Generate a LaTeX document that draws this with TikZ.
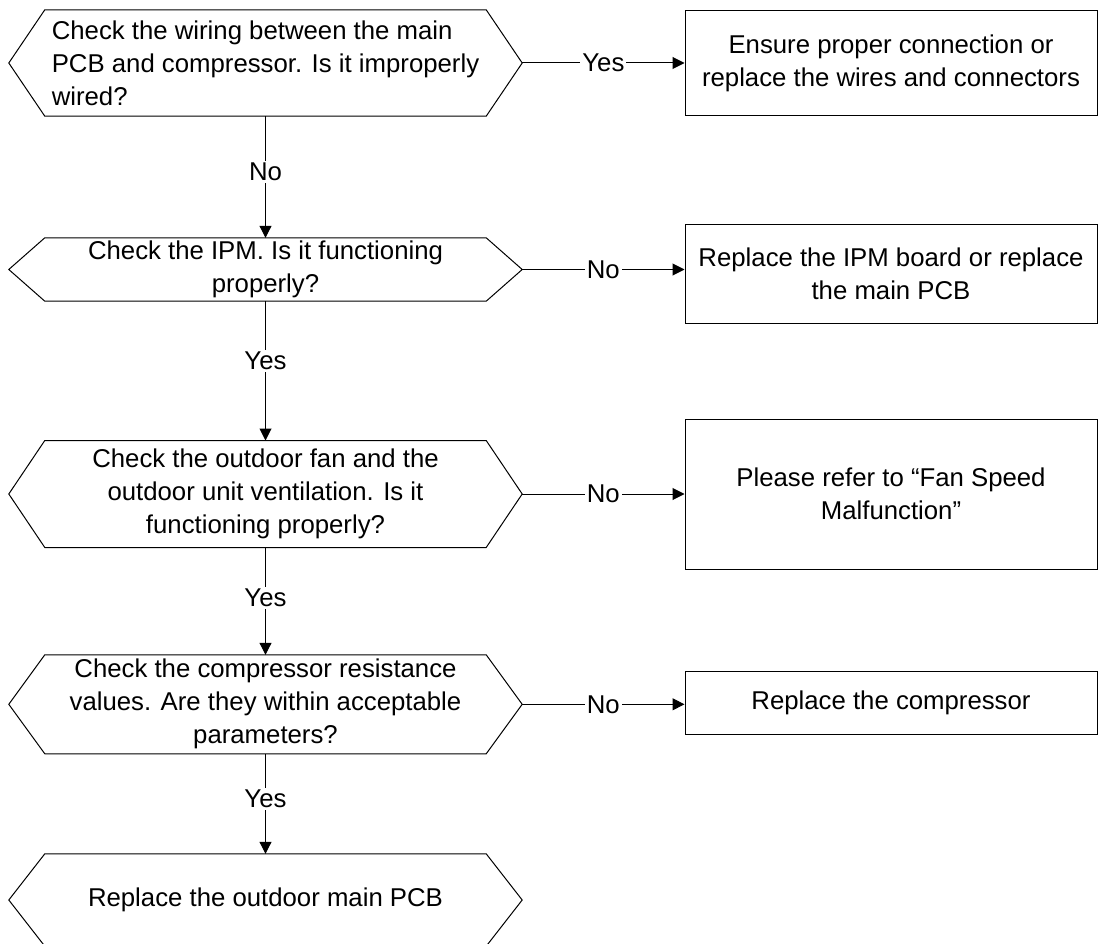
\documentclass[tikz,border=0pt]{standalone}
\usepackage{fontspec}
\setmainfont{Liberation Sans}
\usetikzlibrary{arrows.meta}
\begin{document}
\begin{tikzpicture}[x=1pt,y=-1pt,
  every node/.style={font=\fontsize{25.75}{33}\selectfont},
  hexnode/.style={inner sep=0pt, minimum width=513pt, align=center},
  hexline/.style={draw=black, line width=1pt, line join=miter},
  boxnode/.style={draw=black, line width=1pt, inner sep=0pt, minimum width=412pt, align=center},
  conn/.style={draw=black, line width=1pt, -{Triangle[length=12pt,width=12pt]}},
  lbl/.style={fill=white, inner sep=2pt}
]
\useasboundingbox (0,0) rectangle (1100,944);

% decision hexagons (text holders)
\node[hexnode, minimum height=106pt, align=left] (h1) at (265.5,63)
  {Check the wiring between the main\\PCB and compressor. Is it improperly\\wired?};
\node[hexnode, minimum height=63pt] (h2) at (265.5,269.5)
  {Check the IPM. Is it functioning\\properly?};
\node[hexnode, minimum height=106.6pt] (h3) at (265.5,494)
  {Check the outdoor fan and the\\outdoor unit ventilation. Is it\\functioning properly?};
\node[hexnode, minimum height=98.6pt] (h4) at (265.5,704.3)
  {Check the compressor resistance\\values. Are they within acceptable\\parameters?};
\node[hexnode, minimum height=92pt] (h5) at (265.5,900)
  {Replace the outdoor main PCB};

\foreach \n in {h1,h2,h3,h4,h5}
  \draw[hexline] (\n.west) -- ([xshift=36pt]\n.north west) -- ([xshift=-36pt]\n.north east)
    -- (\n.east) -- ([xshift=-36pt]\n.south east) -- ([xshift=36pt]\n.south west) -- cycle;

% action boxes
\node[boxnode, minimum height=105pt] (b1) at (891,63.4)
  {Ensure proper connection or\\replace the wires and connectors};
\node[boxnode, minimum height=98pt] (b2) at (891,274)
  {Replace the IPM board or replace\\the main PCB};
\node[boxnode, minimum height=150pt] (b3) at (891,494)
  {Please refer to “Fan Speed\\Malfunction”};
\node[boxnode, minimum height=63pt] (b4) at (891,702.7)
  {Replace the compressor};

% horizontal connectors
\draw[conn] (h1.east) -- node[lbl]{Yes} (h1.east -| b1.west);
\draw[conn] (h2.east) -- node[lbl]{No} (h2.east -| b2.west);
\draw[conn] (h3.east) -- node[lbl]{No} (h3.east -| b3.west);
\draw[conn] (h4.east) -- node[lbl]{No} (h4.east -| b4.west);

% vertical connectors
\draw[conn] (h1.south) -- node[lbl, pos=0.46]{No} (h2.north);
\draw[conn] (h2.south) -- node[lbl, pos=0.43]{Yes} (h3.north);
\draw[conn] (h3.south) -- node[lbl, pos=0.47]{Yes} (h4.north);
\draw[conn] (h4.south) -- node[lbl, pos=0.45]{Yes} (h5.north);
\end{tikzpicture}
\end{document}
